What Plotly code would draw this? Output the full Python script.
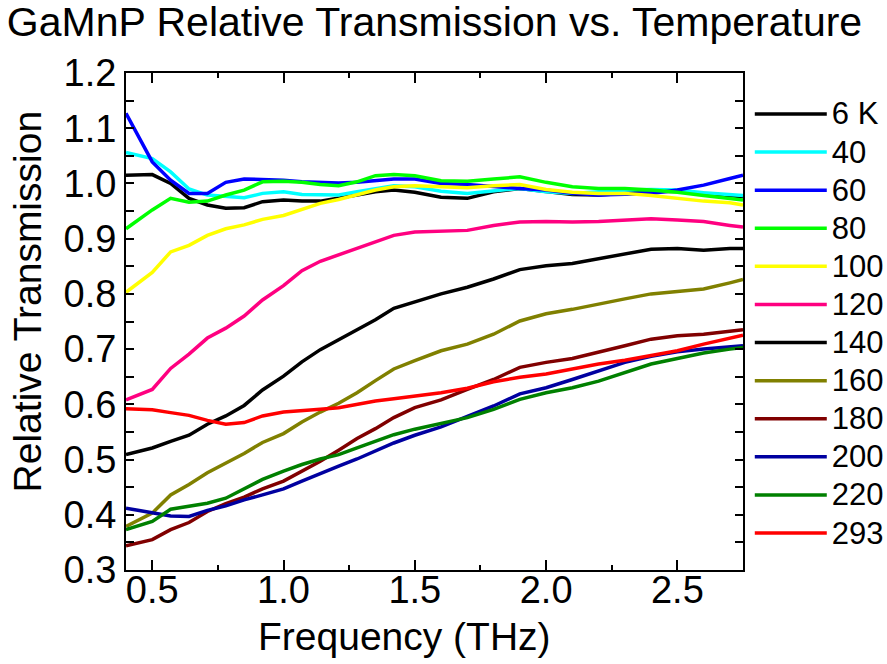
import plotly.graph_objects as go

freq = [0.40, 0.50, 0.57, 0.64, 0.71, 0.78, 0.85, 0.92, 1.00, 1.07, 1.14, 1.21, 1.28, 1.35, 1.42,
        1.50, 1.60, 1.70, 1.80, 1.90, 2.00, 2.10, 2.20, 2.30, 2.40, 2.50, 2.60, 2.70, 2.75]

t6 = [1.015, 1.016, 1.000, 0.973, 0.961, 0.955, 0.956, 0.967, 0.970, 0.968, 0.968, 0.973, 0.979, 0.985, 0.988,
      0.984, 0.975, 0.973, 0.985, 0.991, 0.985, 0.980, 0.979, 0.982, 0.985, 0.986, 0.982, 0.979, 0.976]
t40 = [1.056, 1.045, 1.021, 0.990, 0.979, 0.976, 0.974, 0.982, 0.985, 0.980, 0.979, 0.979, 0.985, 0.991, 0.996,
       0.994, 0.986, 0.982, 0.986, 0.991, 0.985, 0.982, 0.985, 0.988, 0.989, 0.988, 0.983, 0.979, 0.978]
t60 = [1.127, 1.039, 1.006, 0.982, 0.982, 1.002, 1.008, 1.007, 1.006, 1.003, 1.002, 1.001, 1.002, 1.005, 1.008,
       1.008, 1.000, 0.998, 0.994, 0.991, 0.988, 0.982, 0.979, 0.980, 0.982, 0.988, 0.997, 1.009, 1.015]
t80 = [0.918, 0.952, 0.973, 0.966, 0.968, 0.979, 0.988, 1.003, 1.004, 1.002, 0.998, 0.996, 1.003, 1.014, 1.016,
       1.014, 1.005, 1.004, 1.008, 1.012, 1.002, 0.994, 0.991, 0.991, 0.988, 0.984, 0.978, 0.973, 0.970]
t100 = [0.803, 0.839, 0.876, 0.888, 0.906, 0.918, 0.925, 0.935, 0.942, 0.953, 0.964, 0.971, 0.980, 0.988, 0.994,
        0.996, 0.994, 0.992, 0.996, 0.998, 0.989, 0.984, 0.982, 0.982, 0.978, 0.973, 0.968, 0.965, 0.961]
t120 = [0.608, 0.627, 0.665, 0.691, 0.720, 0.738, 0.760, 0.789, 0.815, 0.842, 0.859, 0.871, 0.883, 0.895, 0.906,
        0.912, 0.914, 0.915, 0.924, 0.930, 0.931, 0.930, 0.931, 0.934, 0.936, 0.934, 0.931, 0.924, 0.921]
t140 = [0.509, 0.521, 0.533, 0.544, 0.564, 0.579, 0.598, 0.626, 0.651, 0.677, 0.699, 0.717, 0.736, 0.753, 0.774,
        0.786, 0.800, 0.812, 0.827, 0.844, 0.851, 0.855, 0.864, 0.873, 0.881, 0.882, 0.879, 0.882, 0.882]
t160 = [0.379, 0.403, 0.436, 0.455, 0.476, 0.494, 0.511, 0.531, 0.547, 0.568, 0.586, 0.602, 0.621, 0.643, 0.664,
        0.679, 0.697, 0.709, 0.727, 0.751, 0.764, 0.772, 0.782, 0.791, 0.800, 0.804, 0.809, 0.820, 0.826]
t180 = [0.344, 0.355, 0.373, 0.386, 0.406, 0.420, 0.432, 0.447, 0.461, 0.479, 0.497, 0.517, 0.538, 0.556, 0.576,
        0.594, 0.608, 0.627, 0.645, 0.667, 0.676, 0.683, 0.694, 0.706, 0.718, 0.724, 0.727, 0.732, 0.735]
t200 = [0.412, 0.404, 0.398, 0.397, 0.408, 0.416, 0.427, 0.436, 0.447, 0.461, 0.475, 0.488, 0.501, 0.515, 0.530,
        0.544, 0.559, 0.578, 0.597, 0.619, 0.630, 0.645, 0.661, 0.676, 0.687, 0.695, 0.700, 0.704, 0.706]
t220 = [0.373, 0.388, 0.410, 0.415, 0.421, 0.430, 0.447, 0.464, 0.479, 0.491, 0.501, 0.509, 0.521, 0.533, 0.545,
        0.555, 0.566, 0.576, 0.591, 0.609, 0.621, 0.630, 0.642, 0.658, 0.673, 0.683, 0.693, 0.700, 0.703]
t293 = [0.592, 0.590, 0.585, 0.580, 0.571, 0.564, 0.567, 0.579, 0.586, 0.588, 0.591, 0.594, 0.600, 0.606, 0.610,
        0.615, 0.621, 0.629, 0.641, 0.649, 0.655, 0.664, 0.673, 0.680, 0.688, 0.697, 0.709, 0.719, 0.725]

labels = ["6 K", "40", "60", "80", "100", "120", "140", "160", "180", "200", "220", "293"]
series = [t6, t40, t60, t80, t100, t120, t140, t160, t180, t200, t220, t293]
colors = ["#000000", "#00FFFF", "#0000FF", "#00FF00", "#FFFF00", "#FF0080",
          "#000000", "#808000", "#800000", "#0000A0", "#008000", "#FF0000"]

x_title = "Frequency (THz)"
y_title = "Relative Transmission"
chart_title = "GaMnP Relative Transmission vs. Temperature"

FONT = "Arial, Liberation Sans, sans-serif"

fig = go.Figure()
for lab, ys, col in zip(labels, series, colors):
    fig.add_trace(go.Scatter(x=freq, y=ys, mode="lines",
                             name='<span style="font-size:31px">%s</span>' % lab,
                             line=dict(color=col, width=3.5)))

axis_common = dict(showline=True, linecolor="black", linewidth=2, mirror="allticks",
                   ticks="inside", tickcolor="black", tickwidth=2, showgrid=False,
                   zeroline=False, tickfont=dict(size=38, color="black", family=FONT))

fig.update_layout(
    width=887, height=664,
    margin=dict(l=126, r=144, t=73, b=94, autoexpand=False),
    paper_bgcolor="white", plot_bgcolor="white",
    font=dict(family=FONT, color="black"),
    title=dict(text=chart_title, x=0.5, xref="paper",
               xanchor="center", y=0.967, yanchor="middle",
               font=dict(size=41, color="black", family=FONT)),
    xaxis=dict(range=[0.4, 2.75], tick0=0.5, dtick=0.5, ticklen=10, tickformat=".1f",
               ticklabelstandoff=-15,
               minor=dict(dtick=0.25, tick0=0.25, ticklen=5, ticks="inside", tickcolor="black", tickwidth=2),
               **axis_common),
    yaxis=dict(range=[0.3, 1.2], tick0=0.3, dtick=0.1, ticklen=8, tickformat=".1f",
               minor=dict(dtick=0.05, tick0=0.3, ticklen=8, ticks="inside", tickcolor="black", tickwidth=2),
               **axis_common),
    legend=dict(x=1.011, xanchor="left", y=0.966, yanchor="top", bgcolor="rgba(0,0,0,0)",
                font=dict(size=27, color="black", family=FONT), itemwidth=72,
                tracegroupgap=0, borderwidth=0),
    annotations=[
        dict(text=x_title, xref="paper", yref="paper", x=0.452, y=-0.133,
             xanchor="center", yanchor="middle", showarrow=False,
             font=dict(size=39, color="black", family=FONT)),
        dict(text=y_title, xref="paper", yref="paper", x=-0.160, y=0.539,
             xanchor="center", yanchor="middle", showarrow=False, textangle=-90,
             font=dict(size=39, color="black", family=FONT)),
    ],
)

fig.write_html("out.html")
